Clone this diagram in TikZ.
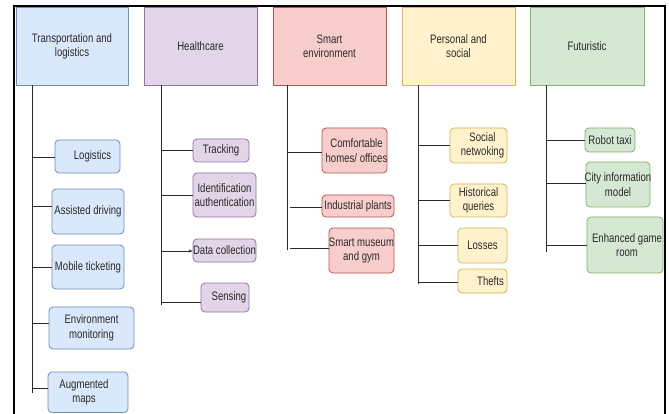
\documentclass[tikz,border=0pt]{standalone}
\usepackage{fontspec}
\setmainfont{Liberation Sans}[FakeStretch=0.78]
\usetikzlibrary{arrows.meta}
\definecolor{bfill}{HTML}{DAE8FC}\definecolor{bdraw}{HTML}{6C8EBF}
\definecolor{pfill}{HTML}{E1D5E7}\definecolor{pdraw}{HTML}{9673A6}
\definecolor{rfill}{HTML}{F8CECC}\definecolor{rdraw}{HTML}{B85450}
\definecolor{yfill}{HTML}{FFF2CC}\definecolor{ydraw}{HTML}{D6B656}
\definecolor{gfill}{HTML}{D5E8D4}\definecolor{gdraw}{HTML}{82B366}
\definecolor{ink}{HTML}{2A2A2A}
\newcommand\mkbox[8]{%
  \node[#2, minimum width={(#5-#3)*1pt}, minimum height={(#6-#4)*1pt}] (#1) at ({(#3+#5)/2},{(#4+#6)/2}) {};
  \node[txt] at ([xshift=#7pt]#1.center) {#8};}
\begin{document}
\begin{tikzpicture}[x=1pt,y={(0pt,-1pt)},
  txt/.style={font=\fontsize{12.3}{14.5}\selectfont, align=center, text=ink, inner sep=0pt},
  base/.style={draw, line width=0.8pt, inner sep=0pt},
  hdr/.style={base},
  chd/.style={base, rounded corners=4pt},
  blueh/.style={hdr, fill=bfill, draw=bdraw}, bluec/.style={chd, fill=bfill, draw=bdraw},
  purh/.style={hdr, fill=pfill, draw=pdraw}, purc/.style={chd, fill=pfill, draw=pdraw},
  redh/.style={hdr, fill=rfill, draw=rdraw}, redc/.style={chd, fill=rfill, draw=rdraw},
  yelh/.style={hdr, fill=yfill, draw=ydraw}, yelc/.style={chd, fill=yfill, draw=ydraw},
  grnh/.style={hdr, fill=gfill, draw=gdraw}, grnc/.style={chd, fill=gfill, draw=gdraw},
  conn/.style={draw=ink, line width=0.9pt},
  frame/.style={draw=black, line width=2.5pt}]
\useasboundingbox (0,0) rectangle (669,414);
\fill[white] (0,0) rectangle (669,414);
\draw[frame] (14,414) -- (14,6) -- (665,6) -- (665,414);
% headers
\mkbox{A}{blueh}{16}{7.5}{128}{85}{0}{Transportation and\\logistics}
\mkbox{B}{purh}{144}{7.5}{257}{85}{0}{Healthcare}
\mkbox{C}{redh}{273}{7.5}{386}{85}{0}{Smart\\environment}
\mkbox{D}{yelh}{402}{7.5}{515}{85}{0}{Personal and\\social}
\mkbox{E}{grnh}{530}{7.5}{644}{85}{0}{Futuristic}
% transportation children
\mkbox{A1}{bluec}{55}{140}{120}{173}{5}{Logistics}
\mkbox{A2}{bluec}{52}{189}{124}{234}{0}{Assisted driving}
\mkbox{A3}{bluec}{52}{245}{124}{289}{0}{Mobile ticketing}
\mkbox{A4}{bluec}{49}{307}{134}{349}{0}{Environment\\monitoring}
\mkbox{A5}{bluec}{48}{372}{128}{412.5}{-4}{Augmented\\maps}
% healthcare children
\mkbox{B1}{purc}{193}{139}{249}{162}{0}{Tracking}
\mkbox{B2}{purc}{193}{173}{256}{217}{0}{Identification\\authentication}
\mkbox{B3}{purc}{193}{239}{256}{262}{0}{Data collection}
\mkbox{B4}{purc}{201}{283}{249}{312}{4}{Sensing}
% smart environment children
\mkbox{C1}{redc}{322}{128}{387}{173}{2}{Comfortable\\homes/ offices}
\mkbox{C2}{redc}{322}{195}{394}{217}{0}{Industrial plants}
\mkbox{C3}{redc}{329}{228}{394}{273}{0}{Smart museum\\and gym}
% personal children
\mkbox{D1}{yelc}{450}{128}{507}{163}{4}{Social\\netwoking}
\mkbox{D2}{yelc}{450}{184}{507}{217}{0}{Historical\\queries}
\mkbox{D3}{yelc}{458}{228}{507}{263}{0}{Losses}
\mkbox{D4}{yelc}{458}{269}{507}{293}{8}{Thefts}
% futuristic children
\mkbox{E1}{grnc}{585}{128}{635}{152}{0}{Robot taxi}
\mkbox{E2}{grnc}{586}{162}{650}{207}{0}{City information\\model}
\mkbox{E3}{grnc}{587}{217}{663}{273}{2}{Enhanced game\\room}
% trunks
\coordinate (Aend) at (32,393);
\coordinate (Bend) at (161,305);
\coordinate (Cend) at (287,250);
\coordinate (Dend) at (418,284);
\coordinate (Eend) at (546,252);
\draw[conn] (A.south -| Aend) -- (Aend);
\draw[conn] (B.south -| Bend) -- (Bend);
\draw[conn] (C.south -| Cend) -- (Cend);
\draw[conn] (D.south -| Dend) -- (Dend);
\draw[conn] (E.south -| Eend) -- (Eend);
% branches
\coordinate (a1) at (32,157); \draw[conn] (a1) -- (a1 -| A1.west);
\coordinate (a2) at (32,206); \draw[conn] (a2) -- (a2 -| A2.west);
\coordinate (a3) at (32,267); \draw[conn] (a3) -- (a3 -| A3.west);
\coordinate (a4) at (32,323); \draw[conn] (a4) -- (a4 -| A4.west);
\coordinate (a5) at (32,388); \draw[conn] (a5) -- (a5 -| A5.west);
\coordinate (b1) at (161,150); \draw[conn] (b1) -- (b1 -| B1.west);
\coordinate (b2) at (161,195); \draw[conn] (b2) -- (b2 -| B2.west);
\coordinate (b3) at (161,251); \draw[conn, -{Stealth[length=4pt,width=3pt]}] (b3) -- (b3 -| B3.west);
\coordinate (b4) at (161,302); \draw[conn] (b4) -- (b4 -| B4.west);
\coordinate (c1) at (287,152); \draw[conn] (c1) -- (c1 -| C1.west);
\coordinate (c2) at (290,207); \draw[conn] (c2) -- (c2 -| C2.west);
\coordinate (c3) at (290,248); \draw[conn] (c3) -- (c3 -| C3.west);
\coordinate (d1) at (418,145); \draw[conn] (d1) -- (d1 -| D1.west);
\coordinate (d2) at (418,200); \draw[conn] (d2) -- (d2 -| D2.west);
\coordinate (d3) at (418,245); \draw[conn] (d3) -- (d3 -| D3.west);
\coordinate (d4) at (418,282); \draw[conn] (d4) -- (d4 -| D4.west);
\coordinate (e1) at (546,140); \draw[conn] (e1) -- (e1 -| E1.west);
\coordinate (e2) at (546,183); \draw[conn] (e2) -- (e2 -| E2.west);
\coordinate (e3) at (546,245); \draw[conn] (e3) -- (e3 -| E3.west);
\end{tikzpicture}
\end{document}
